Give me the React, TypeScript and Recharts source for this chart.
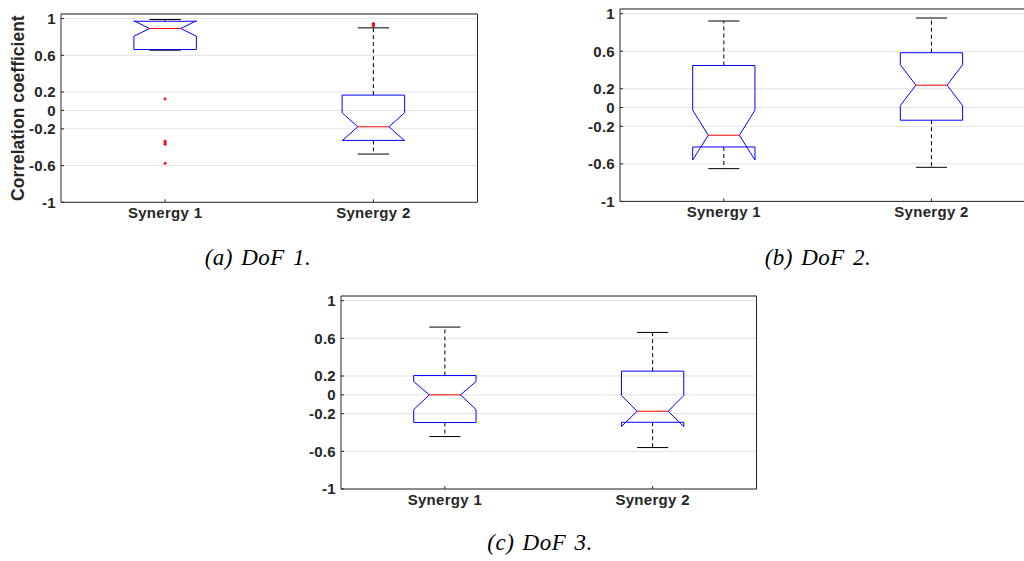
import React from 'react';
import { ComposedChart, Line, Scatter, XAxis, YAxis, CartesianGrid } from 'recharts';

const categories = ['Synergy 1', 'Synergy 2'];
const yTicks = [-1, -0.6, -0.2, 0, 0.2, 0.6, 1];

// (a) DoF 1
const dof1WhiskerLow = [0.656, -0.475];
const dof1Q1 = [0.663, -0.326];
const dof1NotchLow = [0.808, -0.33];
const dof1Median = [0.892, -0.178];
const dof1NotchHigh = [0.976, -0.025];
const dof1Q3 = [0.971, 0.167];
const dof1WhiskerHigh = [0.99, 0.899];
const dof1Outliers = [[0.125, -0.335, -0.352, -0.37, -0.576], [0.917, 0.931, 0.946]];

// (b) DoF 2
const dof2WhiskerLow = [-0.651, -0.637];
const dof2Q1 = [-0.42, -0.135];
const dof2NotchLow = [-0.559, 0.021];
const dof2Median = [-0.295, 0.238];
const dof2NotchHigh = [-0.028, 0.456];
const dof2Q3 = [0.448, 0.584];
const dof2WhiskerHigh = [0.922, 0.954];
const dof2Outliers: number[][] = [[], []];

// (c) DoF 3
const dof3WhiskerLow = [-0.443, -0.56];
const dof3Q1 = [-0.294, -0.291];
const dof3NotchLow = [-0.156, -0.337];
const dof3Median = [0, -0.174];
const dof3NotchHigh = [0.142, -0.007];
const dof3Q3 = [0.206, 0.252];
const dof3WhiskerHigh = [0.72, 0.663];
const dof3Outliers: number[][] = [[], []];

const captions = ['(a) DoF 1.', '(b) DoF 2.', '(c) DoF 3.'];

type Stats = {
  whiskerLow: number[];
  q1: number[];
  notchLow: number[];
  median: number[];
  notchHigh: number[];
  q3: number[];
  whiskerHigh: number[];
  outliers: number[][];
};

const dof1: Stats = {
  whiskerLow: dof1WhiskerLow, q1: dof1Q1, notchLow: dof1NotchLow, median: dof1Median,
  notchHigh: dof1NotchHigh, q3: dof1Q3, whiskerHigh: dof1WhiskerHigh, outliers: dof1Outliers,
};
const dof2: Stats = {
  whiskerLow: dof2WhiskerLow, q1: dof2Q1, notchLow: dof2NotchLow, median: dof2Median,
  notchHigh: dof2NotchHigh, q3: dof2Q3, whiskerHigh: dof2WhiskerHigh, outliers: dof2Outliers,
};
const dof3: Stats = {
  whiskerLow: dof3WhiskerLow, q1: dof3Q1, notchLow: dof3NotchLow, median: dof3Median,
  notchHigh: dof3NotchHigh, q3: dof3Q3, whiskerHigh: dof3WhiskerHigh, outliers: dof3Outliers,
};

const BOX_HALF = 0.15;
const NOTCH_HALF = 0.075;
const CAP_HALF = 0.075;

const AXIS_COLOR = '#262626';
const tickStyle = {
  fill: AXIS_COLOR,
  fontSize: 15,
  fontWeight: 700,
  fontFamily: '"Liberation Sans", Arial, Helvetica, sans-serif',
  letterSpacing: 0.3,
};

type Pt = { x: number; y: number };

function seg(a: Pt, b: Pt): Pt[] {
  return [a, b];
}

function boxParts(s: Stats, i: number) {
  const c = i + 1;
  const outline: Pt[] = [
    { x: c - BOX_HALF, y: s.q3[i] },
    { x: c - BOX_HALF, y: s.notchHigh[i] },
    { x: c - NOTCH_HALF, y: s.median[i] },
    { x: c - BOX_HALF, y: s.notchLow[i] },
    { x: c - BOX_HALF, y: s.q1[i] },
    { x: c + BOX_HALF, y: s.q1[i] },
    { x: c + BOX_HALF, y: s.notchLow[i] },
    { x: c + NOTCH_HALF, y: s.median[i] },
    { x: c + BOX_HALF, y: s.notchHigh[i] },
    { x: c + BOX_HALF, y: s.q3[i] },
    { x: c - BOX_HALF, y: s.q3[i] },
  ];
  return {
    outline,
    median: seg({ x: c - NOTCH_HALF, y: s.median[i] }, { x: c + NOTCH_HALF, y: s.median[i] }),
    upperWhisker: seg({ x: c, y: s.q3[i] }, { x: c, y: s.whiskerHigh[i] }),
    lowerWhisker: seg({ x: c, y: s.q1[i] }, { x: c, y: s.whiskerLow[i] }),
    upperCap: seg({ x: c - CAP_HALF, y: s.whiskerHigh[i] }, { x: c + CAP_HALF, y: s.whiskerHigh[i] }),
    lowerCap: seg({ x: c - CAP_HALF, y: s.whiskerLow[i] }, { x: c + CAP_HALF, y: s.whiskerLow[i] }),
    outliers: s.outliers[i].map((y) => ({ x: c, y })),
  };
}

const PlusMarker = (props: any) => {
  const { cx, cy } = props;
  if (cx == null || cy == null) return null;
  return (
    <path
      d={`M${cx - 1.6},${cy}h3.2M${cx},${cy - 1.6}v3.2`}
      stroke="#ff0000"
      strokeWidth={1.2}
      fill="none"
    />
  );
};

type Plot = { l: number; r: number; t: number; b: number };

function BoxPanel({ stats, plot, yLabel }: { stats: Stats; plot: Plot; yLabel?: string }) {
  const width = plot.r - plot.l + 70;
  const height = plot.b - plot.t + 50;
  const lineCommon = {
    dataKey: 'y',
    dot: false,
    activeDot: false,
    isAnimationActive: false,
    type: 'linear' as const,
    legendType: 'none' as const,
  };
  const series: React.ReactNode[] = [];
  categories.forEach((_, i) => {
    const p = boxParts(stats, i);
    series.push(
      <Line key={`uw${i}`} {...lineCommon} data={p.upperWhisker} stroke="#000" strokeWidth={1} strokeDasharray="4 3" />,
      <Line key={`lw${i}`} {...lineCommon} data={p.lowerWhisker} stroke="#000" strokeWidth={1} strokeDasharray="4 3" />,
      <Line key={`uc${i}`} {...lineCommon} data={p.upperCap} stroke="#000" strokeWidth={1} />,
      <Line key={`lc${i}`} {...lineCommon} data={p.lowerCap} stroke="#000" strokeWidth={1} />,
      <Line key={`bx${i}`} {...lineCommon} data={p.outline} stroke="#0000ff" strokeWidth={1} />,
      <Line key={`md${i}`} {...lineCommon} data={p.median} stroke="#ff0000" strokeWidth={1} />,
      <Scatter key={`ol${i}`} data={p.outliers} dataKey="y" shape={PlusMarker} isAnimationActive={false} legendType="none" />
    );
  });

  return (
    <div style={{ position: 'absolute', left: plot.l - 60, top: plot.t - 10 }}>
      <ComposedChart
        width={width}
        height={height}
        margin={{ top: 9, right: 9, bottom: 10, left: 10 }}
      >
        <CartesianGrid horizontal vertical={false} stroke="#e3e3e3" strokeWidth={1} />
        <XAxis
          type="number"
          dataKey="x"
          domain={[0.5, 2.5]}
          allowDataOverflow
          ticks={[1, 2]}
          interval={0}
          tickFormatter={(v: number) => categories[Math.round(v) - 1] ?? ''}
          height={30}
          tickSize={-3}
          tickMargin={8}
          stroke={AXIS_COLOR}
          tick={tickStyle}
        />
        <XAxis
          xAxisId="top"
          orientation="top"
          type="number"
          dataKey="x"
          domain={[0.5, 2.5]}
          allowDataOverflow
          ticks={[1, 2]}
          interval={0}
          height={1}
          tickSize={-3}
          tick={false}
          stroke={AXIS_COLOR}
        />
        <YAxis
          type="number"
          dataKey="y"
          domain={[-1, 1.05]}
          allowDataOverflow
          ticks={yTicks}
          interval={0}
          tickFormatter={(v: number) => String(v)}
          width={50}
          tickSize={-3}
          tickMargin={8}
          stroke={AXIS_COLOR}
          tick={tickStyle}
          label={
            yLabel
              ? {
                  value: yLabel,
                  angle: -90,
                  position: 'center',
                  dx: -18.5,
                  fill: AXIS_COLOR,
                  fontSize: 17.5,
                  fontWeight: 700,
                  fontFamily: '"Liberation Sans", Arial, Helvetica, sans-serif',
                }
              : undefined
          }
        />
        <YAxis
          yAxisId="right"
          orientation="right"
          type="number"
          domain={[-1, 1.05]}
          allowDataOverflow
          ticks={yTicks}
          interval={0}
          width={1}
          tickSize={-3}
          tick={false}
          stroke={AXIS_COLOR}
        />
        {series}
      </ComposedChart>
    </div>
  );
}

const captionStyle = {
  fontFamily: '"Liberation Serif", "Times New Roman", Times, serif',
  fontStyle: 'italic' as const,
  fontSize: 23,
  letterSpacing: 0.5,
  wordSpacing: 2,
  fill: '#000',
};

export default function App() {
  return (
    <div
      style={{
        position: 'absolute',
        left: 0,
        top: 0,
        width: 1024,
        height: 561,
        overflow: 'hidden',
        background: '#fff',
      }}
    >
      <BoxPanel stats={dof1} plot={{ l: 60.5, r: 477, t: 14, b: 202.3 }} yLabel="Correlation coefficient" />
      <BoxPanel stats={dof2} plot={{ l: 619.5, r: 1034.8, t: 9.3, b: 201.7 }} />
      <BoxPanel stats={dof3} plot={{ l: 340.5, r: 756, t: 295.5, b: 488.5 }} />
      <svg
        width={1024}
        height={561}
        style={{ position: 'absolute', left: 0, top: 0, pointerEvents: 'none' }}
      >
        <text x={258} y={265} textAnchor="middle" style={captionStyle}>{captions[0]}</text>
        <text x={818} y={265} textAnchor="middle" style={captionStyle}>{captions[1]}</text>
        <text x={540} y={550} textAnchor="middle" style={captionStyle}>{captions[2]}</text>
      </svg>
    </div>
  );
}
